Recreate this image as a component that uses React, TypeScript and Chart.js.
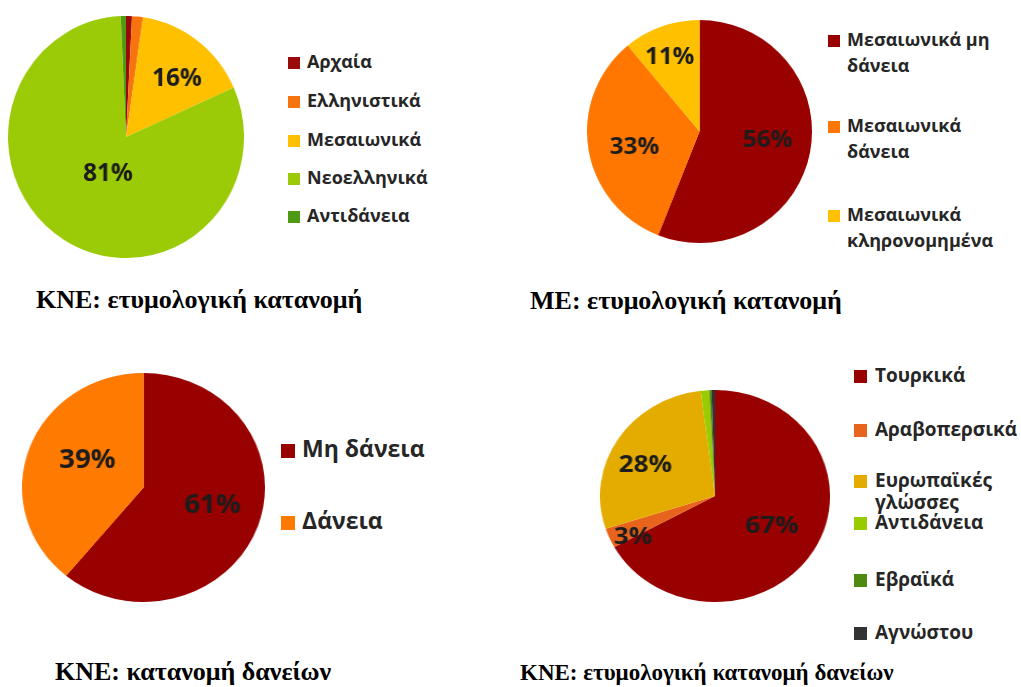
import React, { useEffect, useRef } from "react";
import { Chart, PieController, ArcElement } from "chart.js";

Chart.register(PieController, ArcElement);

// ---------- DATA ----------
const kneEtymCategories: (string | string[])[] = ["Αρχαία", "Ελληνιστικά", "Μεσαιωνικά", "Νεοελληνικά", "Αντιδάνεια"];
const kneEtymValues = [0.8, 1.5, 16, 81, 0.7];
const kneEtymColors = ["#9A0A0A", "#F7730F", "#FFC000", "#9BCB07", "#4E9A12"];
const kneEtymCaption = "ΚΝΕ: ετυμολογική κατανομή";

const meEtymCategories: (string | string[])[] = [["Μεσαιωνικά μη", "δάνεια"], ["Μεσαιωνικά", "δάνεια"], ["Μεσαιωνικά", "κληρονομημένα"]];
const meEtymValues = [56, 33, 11];
const meEtymColors = ["#990000", "#FF7700", "#FFC000"];
const meEtymCaption = "ΜΕ: ετυμολογική κατανομή";

const kneLoanCategories: (string | string[])[] = ["Μη δάνεια", "Δάνεια"];
const kneLoanValues = [61, 39];
const kneLoanColors = ["#990000", "#FF7A00"];
const kneLoanCaption = "ΚΝΕ: κατανομή δανείων";

const kneLoanOriginCategories: (string | string[])[] = ["Τουρκικά", "Αραβοπερσικά", ["Ευρωπαϊκές", "γλώσσες"], "Αντιδάνεια", "Εβραϊκά", "Αγνώστου"];
const kneLoanOriginValues = [67, 3, 28, 1.2, 0.3, 0.5];
const kneLoanOriginColors = ["#990000", "#E8641C", "#E5AC00", "#99CC00", "#4E8A10", "#333333"];
const kneLoanOriginCaption = "ΚΝΕ: ετυμολογική κατανομή δανείων";

// ---------- LAYOUT / STYLE ----------
type LabelPos = { f: number; dA: number };
type Spec = {
  categories: (string | string[])[];
  values: number[];
  colors: string[];
  caption: string;
  box: { cx: number; cy: number; rx: number; ry: number };
  valueLabels: LabelPos[];
  valueFont: number;
  legend: { squareX: number; squareSize: number; textX: number; fontSize: number; lineHeight: number; baselines: number[] };
  captionPos: { x: number; baseline: number; size: number };
};

const specs: Spec[] = [
  {
    categories: kneEtymCategories, values: kneEtymValues, colors: kneEtymColors, caption: kneEtymCaption,
    box: { cx: 126, cy: 137, rx: 118, ry: 121 },
    valueLabels: [{ f: 0, dA: 0 }, { f: 0, dA: 0 }, { f: 0.645, dA: 5 }, { f: 0.34, dA: -5 }, { f: 0, dA: 0 }],
    valueFont: 25,
    legend: { squareX: 288, squareSize: 12, textX: 307, fontSize: 18, lineHeight: 24, baselines: [69, 108, 147, 185, 223] },
    captionPos: { x: 36, baseline: 309, size: 26 },
  },
  {
    categories: meEtymCategories, values: meEtymValues, colors: meEtymColors, caption: meEtymCaption,
    box: { cx: 699.5, cy: 131.5, rx: 112.5, ry: 111.5 },
    valueLabels: [{ f: 0.61, dA: -3.6 }, { f: 0.595, dA: -4.5 }, { f: 0.72, dA: -1.8 }],
    valueFont: 24,
    legend: { squareX: 828, squareSize: 12, textX: 847, fontSize: 18, lineHeight: 26, baselines: [47, 133, 222] },
    captionPos: { x: 530, baseline: 310, size: 26 },
  },
  {
    categories: kneLoanCategories, values: kneLoanValues, colors: kneLoanColors, caption: kneLoanCaption,
    box: { cx: 143.5, cy: 487.5, rx: 121.5, ry: 114.5 },
    valueLabels: [{ f: 0.59, dA: -4 }, { f: 0.52, dA: 7.5 }],
    valueFont: 26,
    legend: { squareX: 281, squareSize: 14, textX: 302, fontSize: 23, lineHeight: 28, baselines: [458, 530] },
    captionPos: { x: 55, baseline: 681, size: 26 },
  },
  {
    categories: kneLoanOriginCategories, values: kneLoanOriginValues, colors: kneLoanOriginColors, caption: kneLoanOriginCaption,
    box: { cx: 715, cy: 496, rx: 115, ry: 106 },
    valueLabels: [{ f: 0.57, dA: -1 }, { f: 0.81, dA: -5 }, { f: 0.67, dA: -7 }, { f: 0, dA: 0 }, { f: 0, dA: 0 }, { f: 0, dA: 0 }],
    valueFont: 24,
    legend: { squareX: 854, squareSize: 13, textX: 875, fontSize: 19, lineHeight: 22, baselines: [383, 437, 488, 530, 587, 640] },
    captionPos: { x: 520, baseline: 680, size: 23 },
  },
];

const SANS = '"Open Sans", "Noto Sans", sans-serif';
const SERIF = '"Liberation Serif", "Times New Roman", serif';

function makeValueLabelPlugin(spec: Spec) {
  return {
    id: "valueLabels",
    afterDatasetsDraw(chart: any) {
      const ctx = chart.ctx as CanvasRenderingContext2D;
      const meta = chart.getDatasetMeta(0);
      const data = chart.data.datasets[0].data as number[];
      ctx.save();
      ctx.font = `bold ${spec.valueFont}px ${SANS}`;
      ctx.fillStyle = "#1c1c1c";
      ctx.textAlign = "center";
      ctx.textBaseline = "middle";
      meta.data.forEach((arc: any, i: number) => {
        const v = data[i];
        const lp = spec.valueLabels[i];
        if (v < 3 || !lp || lp.f <= 0) return;
        const p = arc.getProps(["x", "y", "startAngle", "endAngle", "outerRadius"], true);
        const mid = (p.startAngle + p.endAngle) / 2 + (lp.dA * Math.PI) / 180;
        const x = p.x + Math.cos(mid) * p.outerRadius * lp.f;
        const y = p.y + Math.sin(mid) * p.outerRadius * lp.f;
        ctx.fillText(`${Math.round(v)}%`, x, y);
      });
      ctx.restore();
    },
  };
}

function PieBlock({ spec }: { spec: Spec }) {
  const ref = useRef<HTMLCanvasElement>(null);
  useEffect(() => {
    if (!ref.current) return;
    const chart = new Chart(ref.current, {
      type: "pie",
      data: {
        labels: spec.categories.map((c) => (Array.isArray(c) ? c.join(" ") : c)),
        datasets: [{ data: spec.values, backgroundColor: spec.colors, borderWidth: 0 }],
      },
      options: {
        animation: false,
        responsive: true,
        maintainAspectRatio: false,
        events: [],
        layout: { padding: 0 },
        plugins: { legend: { display: false }, tooltip: { enabled: false } } as any,
      },
      plugins: [makeValueLabelPlugin(spec)],
    });
    return () => chart.destroy();
  }, [spec]);

  const { cx, cy, rx, ry } = spec.box;
  const size = ry * 2;
  const lg = spec.legend;
  const cp = spec.captionPos;
  return (
    <>
      <div
        style={{
          position: "absolute",
          left: cx - rx,
          top: cy - ry,
          width: size,
          height: size,
          transform: `scaleX(${rx / ry})`,
          transformOrigin: "0 0",
        }}
      >
        <canvas ref={ref} style={{ display: "block" }} />
      </div>
      {spec.categories.map((c, i) => {
        const lines = Array.isArray(c) ? c : [c];
        const base = lg.baselines[i];
        return (
          <React.Fragment key={i}>
            <div
              style={{
                position: "absolute",
                left: lg.squareX,
                top: base - lg.squareSize,
                width: lg.squareSize,
                height: lg.squareSize,
                background: spec.colors[i],
              }}
            />
            {lines.map((t, j) => (
              <div
                key={j}
                style={{
                  position: "absolute",
                  left: lg.textX,
                  top: base + j * lg.lineHeight - Math.round(lg.fontSize * 0.92),
                  fontFamily: SANS,
                  fontWeight: 700,
                  fontSize: lg.fontSize,
                  lineHeight: `${lg.fontSize}px`,
                  color: "#262626",
                  whiteSpace: "nowrap",
                }}
              >
                {t}
              </div>
            ))}
          </React.Fragment>
        );
      })}
      <div
        style={{
          position: "absolute",
          left: cp.x,
          top: cp.baseline - Math.round(cp.size * 0.84),
          fontFamily: SERIF,
          fontWeight: "bold",
          fontSize: cp.size,
          lineHeight: `${cp.size}px`,
          color: "#000",
          whiteSpace: "nowrap",
        }}
      >
        {spec.caption}
      </div>
    </>
  );
}

export default function App() {
  return (
    <div
      style={{
        position: "absolute",
        left: 0,
        top: 0,
        width: 1021,
        height: 687,
        background: "#fff",
        overflow: "hidden",
      }}
    >
      {specs.map((s, i) => (
        <PieBlock key={i} spec={s} />
      ))}
    </div>
  );
}
